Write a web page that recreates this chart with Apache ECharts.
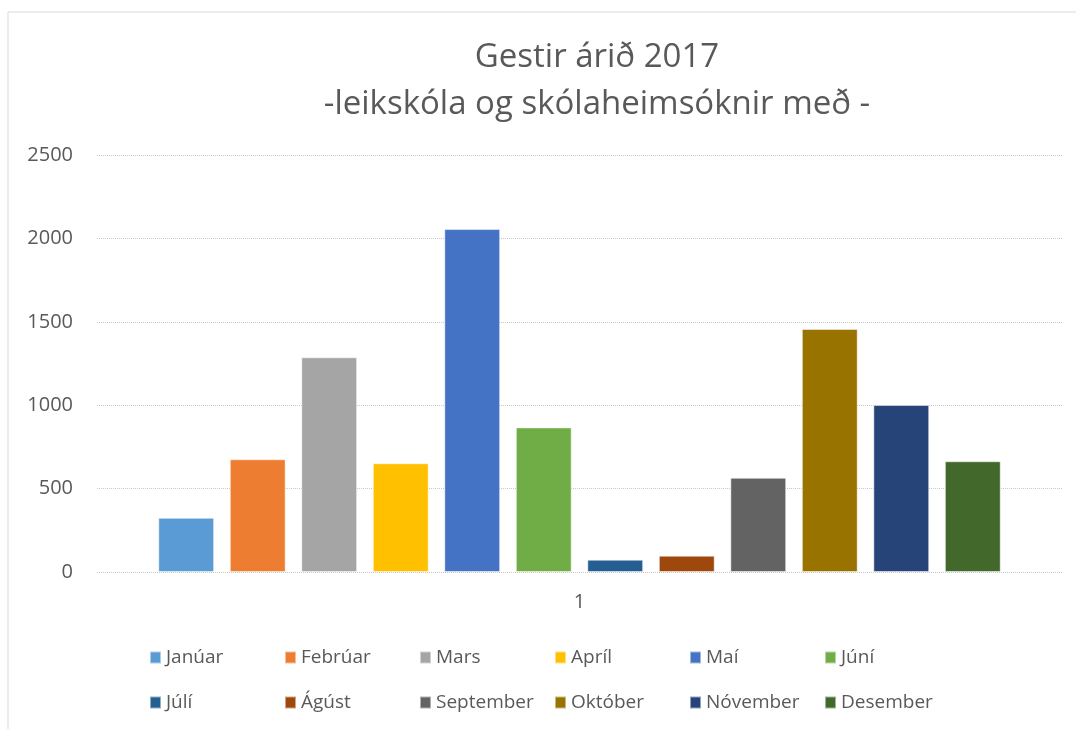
<!DOCTYPE html>
<html>
<head>
<meta charset="utf-8">
<title>Gestir árið 2017</title>
<script src="https://cdn.jsdelivr.net/npm/echarts@6/dist/echarts.min.js"></script>
<style>
  html, body { margin: 0; padding: 0; background: #fff; }
  #chart { width: 1076px; height: 729px; }
</style>
</head>
<body>
<div id="chart"></div>
<script>
// gögn
const categories = ['1']
const months = ['Janúar', 'Febrúar', 'Mars', 'Apríl', 'Maí', 'Júní',
  'Júlí', 'Ágúst', 'September', 'Október', 'Nóvember', 'Desember']
const visitors = [325, 676, 1287, 652, 2056, 867, 74, 98, 565, 1457, 1001, 664]
const yTicks = [0, 500, 1000, 1500, 2000, 2500]

const colors = ['#5b9bd5', '#ed7d31', '#a5a5a5', '#ffc000', '#4472c4', '#70ad47',
  '#255e91', '#9e480e', '#636363', '#997300', '#264478', '#43682b']

const textColor = '#595959'
const font = 'Open Sans'

let myChart = echarts.init(document.getElementById('chart'))

let option = {
  color: colors,
  animation: false,
  textStyle: { fontFamily: font },
  // ramminn utan um
  graphic: [{
    type: 'rect',
    shape: { x: 8, y: 12, width: 1100, height: 800 },
    style: { fill: 'none', stroke: '#d9d9d9', lineWidth: 1 },
    silent: true
  }],
  title: {
    text: 'Gestir árið 2017\n-leikskóla og skólaheimsóknir með -',
    left: 592,
    top: 29,
    textAlign: 'center',
    textStyle: {
      color: textColor,
      fontFamily: font,
      fontWeight: 'normal',
      fontSize: 33,
      lineHeight: 47
    }
  },
  grid: {
    left: 97,
    right: 14,
    top: 155,
    bottom: 157
  },
  legend: {
    data: months,
    left: 144,
    top: 640,
    width: 820,
    itemWidth: 11,
    itemHeight: 12,
    itemGap: 20,
    icon: 'rect',
    textStyle: {
      color: textColor,
      fontFamily: font,
      fontSize: 19,
      width: 98,
      lineHeight: 25
    }
  },
  xAxis: {
    type: 'category',
    data: categories,
    axisLine: { show: false },
    axisTick: { show: false },
    axisLabel: { color: textColor, fontSize: 20, margin: 20, fontFamily: font }
  },
  yAxis: {
    type: 'value',
    min: yTicks[0],
    max: yTicks[yTicks.length - 1],
    interval: 500,
    axisLine: { show: false },
    axisTick: { show: false },
    axisLabel: {
      color: textColor,
      fontSize: 20,
      margin: 24,
      fontFamily: font,
      formatter: (v) => String(v)
    },
    splitLine: { lineStyle: { color: '#c8c8c8', type: 'dotted', width: 1 } }
  },
  series: months.map((name, i) => ({
    name: name,
    type: 'bar',
    data: [visitors[i]],
    barGap: '28%',
    barCategoryGap: '12.7%',
    itemStyle: { borderColor: 'rgba(255,255,255,0.5)', borderWidth: 1 }
  }))
}

myChart.setOption(option)
window.onresize = myChart.resize
</script>
</body>
</html>
